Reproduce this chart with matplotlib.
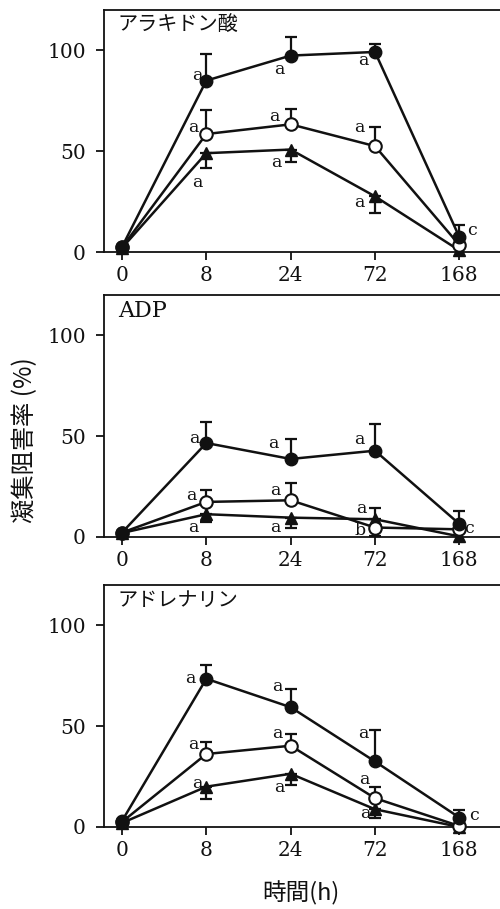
import numpy as np
import matplotlib
matplotlib.use("Agg")
import matplotlib.pyplot as plt

# ---------------- data ----------------
time_labels = ['0', '8', '24', '72', '168']
panel_titles = ['アラキドン酸', 'ADP', 'アドレナリン']

# filled circles
filled_vals = [[2.5, 85.0, 97.4, 99.2, 7.5],
               [2.2, 46.6, 38.7, 42.8, 6.5],
               [3.0, 73.5, 59.4, 32.5, 4.7]]
filled_up = [[0, 13.4, 9.0, 4.0, 6.0],
             [0, 10.5, 9.7, 13.3, 6.5],
             [0, 7.0, 9.0, 15.8, 3.8]]
filled_lo = [[0, 0, 0, 0, 0],
             [0, 0, 0, 0, 0],
             [0, 0, 0, 0, 0]]

# open circles
open_vals = [[2.3, 58.5, 63.3, 52.5, 3.5],
             [2.2, 17.4, 18.2, 4.7, 3.8],
             [2.5, 36.2, 40.3, 14.3, 0.5]]
open_up = [[0, 12.0, 7.5, 9.7, 0],
           [0, 6.0, 8.5, 0, 0],
           [0, 6.0, 6.0, 5.4, 0]]
open_lo = [[0, 0, 0, 0, 0],
           [0, 0, 0, 4.0, 0],
           [0, 0, 0, 0, 0]]

# filled triangles
tri_vals = [[2.0, 49.0, 50.8, 27.6, 0.8],
            [2.0, 11.3, 9.6, 8.8, 0.3],
            [2.0, 20.0, 26.4, 8.8, 0.0]]
tri_up = [[0, 0, 0, 0, 0],
          [0, 0, 0, 5.7, 0],
          [0, 0, 0, 0, 0]]
tri_lo = [[0, 7.5, 6.4, 8.3, 0],
          [0, 3.7, 5.0, 0, 0],
          [0, 6.0, 5.5, 4.4, 0]]

# significance letters: (x position in category units, y value, text)
letters = [
    [(0.89, 87.3, 'a'), (1.87, 90.3, 'a'), (2.86, 94.8, 'a'),
     (0.85, 61.8, 'a'), (1.81, 67.3, 'a'), (2.81, 61.8, 'a'),
     (0.89, 34.4, 'a'), (1.83, 44.4, 'a'), (2.81, 24.4, 'a'),
     (4.15, 10.5, 'c')],
    [(0.86, 48.8, 'a'), (1.80, 46.6, 'a'), (2.82, 48.3, 'a'),
     (0.82, 20.5, 'a'), (1.82, 22.9, 'a'), (2.84, 13.9, 'a'),
     (0.85, 4.8, 'a'), (1.82, 4.8, 'a'), (2.82, 3.1, 'b'),
     (4.12, 4.3, 'c')],
    [(0.81, 73.5, 'a'), (1.84, 69.8, 'a'), (2.86, 46.3, 'a'),
     (0.85, 41.1, 'a'), (1.84, 46.6, 'a'), (2.87, 23.4, 'a'),
     (0.89, 21.7, 'a'), (1.87, 19.6, 'a'), (2.89, 6.8, 'a'),
     (4.17, 5.5, 'c')],
]

ylabel = '凝集阻害率 (%)'
xlabel = '時間(h)'

# ---------------- figure ----------------
W, H = 500, 909
fig = plt.figure(figsize=(W / 100, H / 100), dpi=100)

serif = ['DejaVu Serif', 'Noto Sans CJK JP']
cjk = ['Noto Sans CJK JP', 'DejaVu Sans']

# axes boxes in pixel (top, bottom)
boxes = [(10, 252), (295, 537), (585, 827)]
left_px, right_px = 104, 520

x = np.arange(len(time_labels))
ink = '#111111'

def draw_err(ax, vals, lo, up):
    vals = np.array(vals, float)
    lo = np.array(lo, float)
    up = np.array(up, float)
    m = (lo > 0) | (up > 0)
    if m.any():
        ax.errorbar(x[m], vals[m], yerr=[lo[m], up[m]], fmt='none',
                    ecolor=ink, elinewidth=1.6, capsize=4, capthick=1.6,
                    zorder=2)

for i, (top, bot) in enumerate(boxes):
    ax = fig.add_axes([left_px / W, 1 - bot / H,
                       (right_px - left_px) / W, (bot - top) / H])
    ax.set_xlim(-0.2135, 4.72)
    ax.set_ylim(0, 120)

    draw_err(ax, filled_vals[i], filled_lo[i], filled_up[i])
    draw_err(ax, open_vals[i], open_lo[i], open_up[i])
    draw_err(ax, tri_vals[i], tri_lo[i], tri_up[i])

    ax.plot(x, tri_vals[i], '-', color=ink, lw=1.8, marker='^', ms=8,
            mfc=ink, mec=ink, zorder=3, clip_on=False)
    ax.plot(x, open_vals[i], '-', color=ink, lw=1.8, marker='o', ms=9,
            mfc='white', mec=ink, mew=1.5, zorder=4, clip_on=False)
    ax.plot(x, filled_vals[i], '-', color=ink, lw=1.8, marker='o', ms=9,
            mfc=ink, mec=ink, zorder=5, clip_on=False)

    for (lx, ly, t) in letters[i]:
        ax.text(lx, ly, t, ha='center', va='center', fontsize=12.5,
                family=serif, color=ink, zorder=6)

    is_latin = panel_titles[i].isascii()
    ax.text(0.033, 0.935, panel_titles[i], transform=ax.transAxes,
            ha='left', va='center', fontsize=16 if is_latin else 14.5,
            family=serif if is_latin else cjk, color=ink)

    ax.set_xticks(x)
    ax.set_xticklabels(time_labels)
    ax.set_yticks([0, 50, 100])
    for lab in ax.get_xticklabels() + ax.get_yticklabels():
        lab.set_family(serif)
        lab.set_fontsize(14.5)
        lab.set_color(ink)
    ax.tick_params(axis='both', direction='out', length=6, width=1.3,
                   colors=ink)
    ax.tick_params(axis='y', pad=7)
    ax.tick_params(axis='x', pad=4)
    ax.spines['right'].set_visible(False)
    for s in ['left', 'bottom', 'top']:
        ax.spines[s].set_linewidth(1.3)
        ax.spines[s].set_color(ink)

fig.text(25 / W, 1 - 440 / H, ylabel, rotation=90, ha='center', va='center',
         fontsize=17.5, family=cjk, color=ink)
fig.text(301 / W, 1 - 893 / H, xlabel, ha='center', va='center',
         fontsize=17, family=cjk, color=ink)

fig.savefig('out.png', dpi=100)
